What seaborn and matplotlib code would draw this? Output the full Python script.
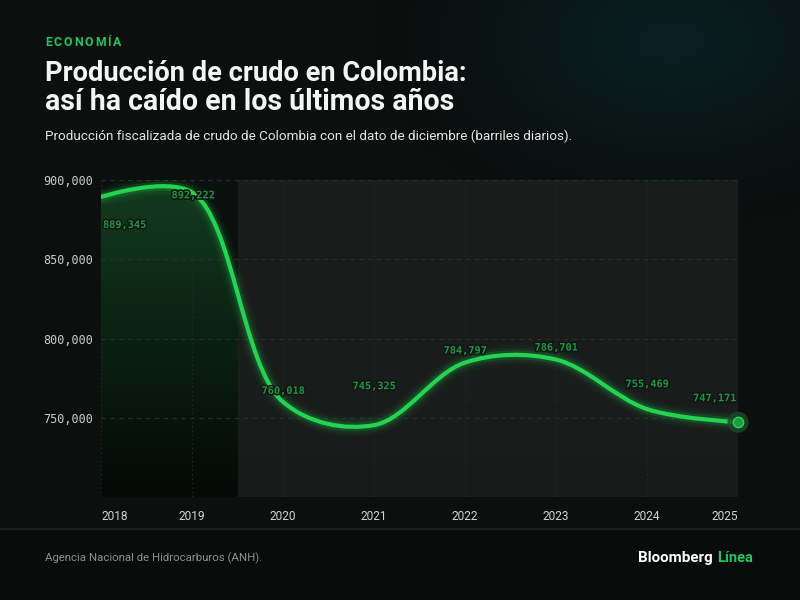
import numpy as np
import pandas as pd
import matplotlib
matplotlib.use("Agg")
import matplotlib.pyplot as plt
import seaborn as sns
import matplotlib.patheffects as pe
from matplotlib.path import Path
from matplotlib.patches import PathPatch, Rectangle

# ---------------- data ----------------
years = [2018, 2019, 2020, 2021, 2022, 2023, 2024, 2025]
produccion = [889345, 892222, 760018, 745325, 784797, 786701, 755469, 747171]
y_ticks = [750000, 800000, 850000, 900000]
x_labels = ["2018", "2019", "2020", "2021", "2022", "2023", "2024", "2025"]

# label placement (pixel offsets from the point) - styling only
label_offsets = [(2, -28, "left"), (1, -3, "center"), (0, 11, "center"), (0, 39, "center"),
                 (0, 12, "center"), (0, 12, "center"), (0, 25, "center"), (-2, 24, "right")]

df = pd.DataFrame({"year": years, "barriles": produccion})

W, H = 800, 600
BG = "#0b0f0e"
GREEN = "#24d352"
LABEL_GREEN = "#1f9640"

sns.set_theme(style="dark")
plt.rcParams["font.family"] = ["Roboto", "DejaVu Sans"]


def catmull_rom(ax, xs, ys, alpha=0.5):
    # centripetal catmull-rom (d3.curveCatmullRom) computed in screen space,
    # returned as bezier segments in data coordinates
    P = ax.transData.transform(np.column_stack([xs, ys]).astype(float))
    n = len(P)
    verts = [P[0]]
    codes = [Path.MOVETO]
    for i in range(n - 1):
        p0 = P[i - 1] if i > 0 else None
        p1, p2 = P[i], P[i + 1]
        p3 = P[i + 2] if i + 2 < n else None
        l12 = np.linalg.norm(p2 - p1)
        l12_a, l12_2a = l12 ** alpha, l12 ** (2 * alpha)
        c1 = p1.copy()
        if p0 is not None:
            l01 = np.linalg.norm(p1 - p0)
            l01_a, l01_2a = l01 ** alpha, l01 ** (2 * alpha)
            a = 2 * l01_2a + 3 * l01_a * l12_a + l12_2a
            m = 3 * l01_a * (l01_a + l12_a)
            c1 = (p1 * a - p0 * l12_2a + p2 * l01_2a) / m
        c2 = p2.copy()
        if p3 is not None:
            l23 = np.linalg.norm(p3 - p2)
            l23_a, l23_2a = l23 ** alpha, l23 ** (2 * alpha)
            b = 2 * l23_2a + 3 * l23_a * l12_a + l12_2a
            m = 3 * l23_a * (l23_a + l12_a)
            c2 = (p2 * b + p1 * l23_2a - p3 * l12_2a) / m
        verts += [c1, c2, p2]
        codes += [Path.CURVE4] * 3
    verts = ax.transData.inverted().transform(np.array(verts))
    return [tuple(v) for v in verts], codes


fig = plt.figure(figsize=(8, 6), dpi=100)
fig.patch.set_facecolor(BG)

# background with a teal glow at the top right
bg_ax = fig.add_axes([0, 0, 1, 1], zorder=-10)
yy, xx = np.mgrid[0:H, 0:W]
d = np.sqrt(((xx - 670) / 300.0) ** 2 + ((yy - 40) / 190.0) ** 2)
t = np.clip(1 - d, 0, 1) ** 1.5
c0 = np.array([11, 15, 14]) / 255.0
c1 = np.array([9, 33, 36]) / 255.0
img = c0 + (c1 - c0) * t[..., None]
img[529:, :, :] = np.array([10, 12, 11]) / 255.0
bg_ax.imshow(img, extent=[0, W, H, 0], aspect="auto")
bg_ax.axhline(529, color="#1c2220", lw=1.2)
bg_ax.set_xlim(0, W)
bg_ax.set_ylim(H, 0)
bg_ax.axis("off")

# main chart
ax = fig.add_axes([101 / W, 1 - 497 / H, (738 - 101) / W, (497 - 180) / H])
ax.patch.set_alpha(0)
ax.set_xlim(2018, 2025)
ax.set_ylim(700000, 900000)

verts, codes = catmull_rom(ax, df["year"], df["barriles"])
curve = Path(verts, codes)

# gradient area under the curve
fill_path = Path(verts + [(2025, 700000), (2018, 700000), (2018, 700000)],
                 codes + [Path.LINETO, Path.LINETO, Path.CLOSEPOLY])
fill_patch = PathPatch(fill_path, facecolor="none", edgecolor="none")
ax.add_patch(fill_patch)
g = np.linspace(1, 0, 256) ** 1.1
top_c = np.array([18, 60, 31]) / 255.0
bot_c = np.array([5, 9, 7]) / 255.0
grad = bot_c + (top_c - bot_c) * g[:, None]
grad = np.repeat(grad[:, None, :], 2, axis=1)
gim = ax.imshow(grad, extent=[2018, 2025, 700000, 900000], aspect="auto",
                origin="upper", zorder=1)
gim.set_clip_path(fill_patch)

# grey panel from mid 2019 onwards
ax.add_patch(Rectangle((2019.5, 700000), 5.5, 200000, facecolor="#1c1e1d",
                       alpha=0.88, edgecolor="none", zorder=2))

# grid
for v in [700000] + y_ticks:
    ax.axhline(v, color="#2b302d", lw=0.8, ls=(0, (4, 4)), zorder=3)
for yr in years:
    ax.axvline(yr, color="#262b28", lw=0.7, ls=(0, (1.5, 3)), zorder=3)

# glowing line
for lw, a in [(14, 0.04), (10, 0.07), (6.5, 0.16)]:
    ax.add_patch(PathPatch(curve, facecolor="none", edgecolor=GREEN, lw=lw,
                           alpha=a, capstyle="round", zorder=4))
ax.add_patch(PathPatch(curve, facecolor="none", edgecolor=GREEN, lw=3.0,
                       capstyle="round", zorder=5))

# end point
last = df.tail(1)
sns.scatterplot(data=last, x="year", y="barriles", s=230, color="#1a4a29",
                alpha=0.8, edgecolor="none", ax=ax, zorder=6, clip_on=False)
sns.scatterplot(data=last, x="year", y="barriles", s=55, color="#1f9a40",
                edgecolor="#2ad657", linewidth=1.0, ax=ax, zorder=7, clip_on=False)

# value labels
for (yr, val), (dx, dy, ha) in zip(zip(years, produccion), label_offsets):
    ax.annotate(f"{val:,}", (yr, val), xytext=(dx, dy), textcoords="offset pixels",
                ha=ha, va="center", fontsize=7.4, fontweight="bold",
                family="DejaVu Sans Mono", color=LABEL_GREEN, zorder=8,
                path_effects=[pe.withStroke(linewidth=2.2, foreground="#101513")])

# axes styling
ax.set_xticks(years)
ax.set_xticklabels(x_labels)
ax.set_yticks(y_ticks)
ax.set_yticklabels([f"{v:,}" for v in y_ticks])
ax.tick_params(axis="x", length=0, pad=9, labelsize=8.6, labelcolor="#d2d5d3")
ax.tick_params(axis="y", length=0, pad=6, labelsize=8.5, labelcolor="#c8cbc9")
for lab in ax.get_yticklabels():
    lab.set_family("DejaVu Sans Mono")
xl = ax.get_xticklabels()
xl[0].set_ha("left")
xl[-1].set_ha("right")
ax.set_xlabel("")
ax.set_ylabel("")
ax.grid(False)
for sp in ax.spines.values():
    sp.set_visible(False)

# ---------------- texts ----------------
r = fig.canvas.get_renderer()


def put(x, y, s, target_w, size, **kw):
    txt = fig.text(x / W, 1 - y / H, s, fontsize=size, va="baseline", **kw)
    w = txt.get_window_extent(r).width
    txt.set_fontsize(size * target_w / w)
    return txt


# kicker with letter spacing
x = 45.0
for ch in "ECONOMÍA":
    tt = fig.text(x / W, 1 - 46 / H, ch, fontsize=8.8, fontweight="bold",
                  color="#22c55e", va="baseline")
    x += tt.get_window_extent(r).width + 1.9

put(45, 81, "Producción de crudo en Colombia:", 420, 20, fontweight="bold", color="#f4f5f4")
put(45, 110, "así ha caído en los últimos años", 408, 20, fontweight="bold", color="#f4f5f4")
put(45, 140, "Producción fiscalizada de crudo de Colombia con el dato de diciembre (barriles diarios).",
    530, 9.5, color="#e4e6e5")

put(45, 561, "Agencia Nacional de Hidrocarburos (ANH).", 218, 8, color="#8d908e")
tb = put(638, 562, "Bloomberg", 75, 11, fontweight="bold", color="#ffffff")
tb_end = tb.get_window_extent(r).x1
put(tb_end + 4, 562, "Línea", 36, 11, fontweight="bold", color="#22c55e")

fig.savefig("out.png", dpi=100, facecolor=BG)
